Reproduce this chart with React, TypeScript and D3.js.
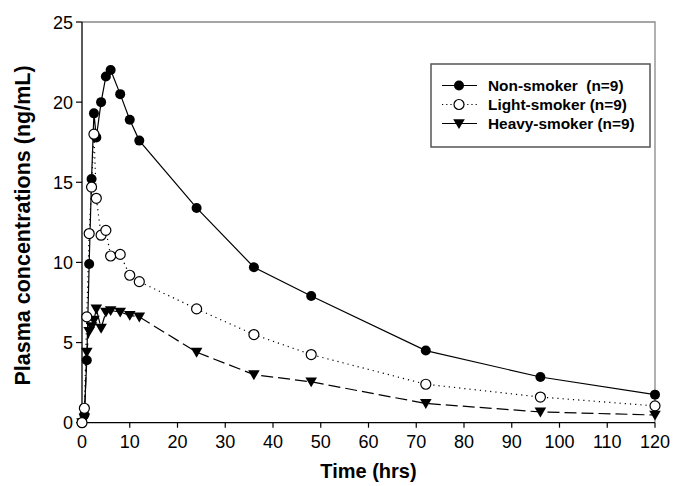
import React from "react";
import * as d3 from "d3";

const times = [0, 0.5, 1, 1.5, 2, 2.5, 3, 4, 5, 6, 8, 10, 12, 24, 36, 48, 72, 96, 120];
const nonSmoker = [0, 0.5, 3.9, 9.9, 15.2, 19.3, 17.8, 20.0, 21.6, 22.0, 20.5, 18.9, 17.6, 13.4, 9.7, 7.9, 4.5, 2.85, 1.75];
const lightSmoker = [0, 0.9, 6.6, 11.8, 14.7, 18.0, 14.0, 11.7, 12.0, 10.4, 10.5, 9.2, 8.8, 7.1, 5.5, 4.25, 2.4, 1.6, 1.05];
const heavySmoker = [0, 0.3, 4.4, 5.7, 6.0, 6.4, 7.1, 5.9, 6.9, 7.0, 6.9, 6.7, 6.6, 4.4, 3.0, 2.55, 1.2, 0.67, 0.48];
const xTicks = [0, 10, 20, 30, 40, 50, 60, 70, 80, 90, 100, 110, 120];
const yTicks = [0, 5, 10, 15, 20, 25];
const legendLabels = ["Non-smoker  (n=9)", "Light-smoker (n=9)", "Heavy-smoker (n=9)"];

const W = 681, H = 486;
const X0 = 82, X1 = 655, Y0 = 422.7, Y1 = 22;
const FONT = "'Liberation Sans', Arial, Helvetica, sans-serif";

type Kind = "filled" | "open" | "tri";

function Marker({ x, y, kind }: { x: number; y: number; kind: Kind }) {
  if (kind === "filled") return <circle cx={x} cy={y} r={5} fill="#000" />;
  if (kind === "open") return <circle cx={x} cy={y} r={5} fill="#fff" stroke="#000" strokeWidth={1.2} />;
  const s = 5.8;
  return <path d={`M${x - s},${y - s * 0.75}L${x + s},${y - s * 0.75}L${x},${y + s * 0.95}Z`} fill="#000" />;
}

export default function App() {
  const x = d3.scaleLinear().domain([0, 120]).range([X0, X1]);
  const y = d3.scaleLinear().domain([0, 25]).range([Y0, Y1]);
  const line = d3.line<[number, number]>().x(d => x(d[0])).y(d => y(d[1]));

  const series: { vals: number[]; kind: Kind; dash?: string }[] = [
    { vals: nonSmoker, kind: "filled" },
    { vals: heavySmoker, kind: "tri", dash: "12,5" },
    { vals: lightSmoker, kind: "open", dash: "1.2,4" },
  ];

  const legendRows = [
    { label: legendLabels[0], kind: "filled" as Kind, dash: undefined },
    { label: legendLabels[1], kind: "open" as Kind, dash: "1.2,3" },
    { label: legendLabels[2], kind: "tri" as Kind, dash: undefined },
  ];

  return (
    <svg width={W} height={H} style={{ position: "absolute", left: 0, top: 0, background: "#fff" }}>
      {/* frame */}
      <path d={`M${X0},${Y1}H${X1}V${Y0}`} fill="none" stroke="#888" strokeWidth={1.3} />
      {/* axes */}
      <line x1={X0} x2={X1} y1={Y0} y2={Y0} stroke="#000" strokeWidth={1.3} />
      <line x1={X0} x2={X0} y1={Y1} y2={Y0} stroke="#000" strokeWidth={1.3} />
      {xTicks.map(t => (
        <g key={"x" + t}>
          <line x1={x(t)} x2={x(t)} y1={Y0} y2={Y0 + 5} stroke="#000" strokeWidth={1.2} />
          <text x={x(t)} y={Y0 + 25} textAnchor="middle" fontFamily={FONT} fontSize={18} fill="#000">{t}</text>
        </g>
      ))}
      {yTicks.map(t => (
        <g key={"y" + t}>
          <line x1={X0 - 6} x2={X0} y1={y(t)} y2={y(t)} stroke="#000" strokeWidth={1.2} />
          <text x={X0 - 9} y={y(t) + 6.5} textAnchor="end" fontFamily={FONT} fontSize={18} fill="#000">{t}</text>
        </g>
      ))}
      <text x={(X0 + X1) / 2} y={478} textAnchor="middle" fontFamily={FONT} fontSize={20} fontWeight="bold" fill="#000">Time (hrs)</text>
      <text transform={`translate(30,225.5) rotate(-90)`} textAnchor="middle" fontFamily={FONT} fontSize={21.5} fontWeight="bold" fill="#000">Plasma concentrations (ng/mL)</text>

      {series.map((s, i) => (
        <path key={"l" + i} d={line(times.map((t, j) => [t, s.vals[j]]) as [number, number][]) || ""} fill="none" stroke="#000" strokeWidth={1.2} strokeDasharray={s.dash} />
      ))}
      {series.map((s, i) => (
        <g key={"m" + i}>
          {times.map((t, j) => <Marker key={j} x={x(t)} y={y(s.vals[j])} kind={s.kind} />)}
        </g>
      ))}

      {/* legend */}
      <rect x={431} y={64} width={219} height={83} fill="#fff" stroke="#555" strokeWidth={1.5} />
      {legendRows.map((r, i) => {
        const ry = 85.5 + i * 19;
        return (
          <g key={"lg" + i}>
            <line x1={442} x2={477} y1={ry} y2={ry} stroke="#000" strokeWidth={1.2} strokeDasharray={r.dash} />
            <Marker x={459} y={ry} kind={r.kind} />
            <text transform={`translate(488,${ry + 5.5}) scale(1.1,1)`} fontFamily={FONT} fontSize={14} fontWeight="bold" fill="#000" style={{ whiteSpace: "pre" }} xmlSpace="preserve">{r.label}</text>
          </g>
        );
      })}
    </svg>
  );
}
